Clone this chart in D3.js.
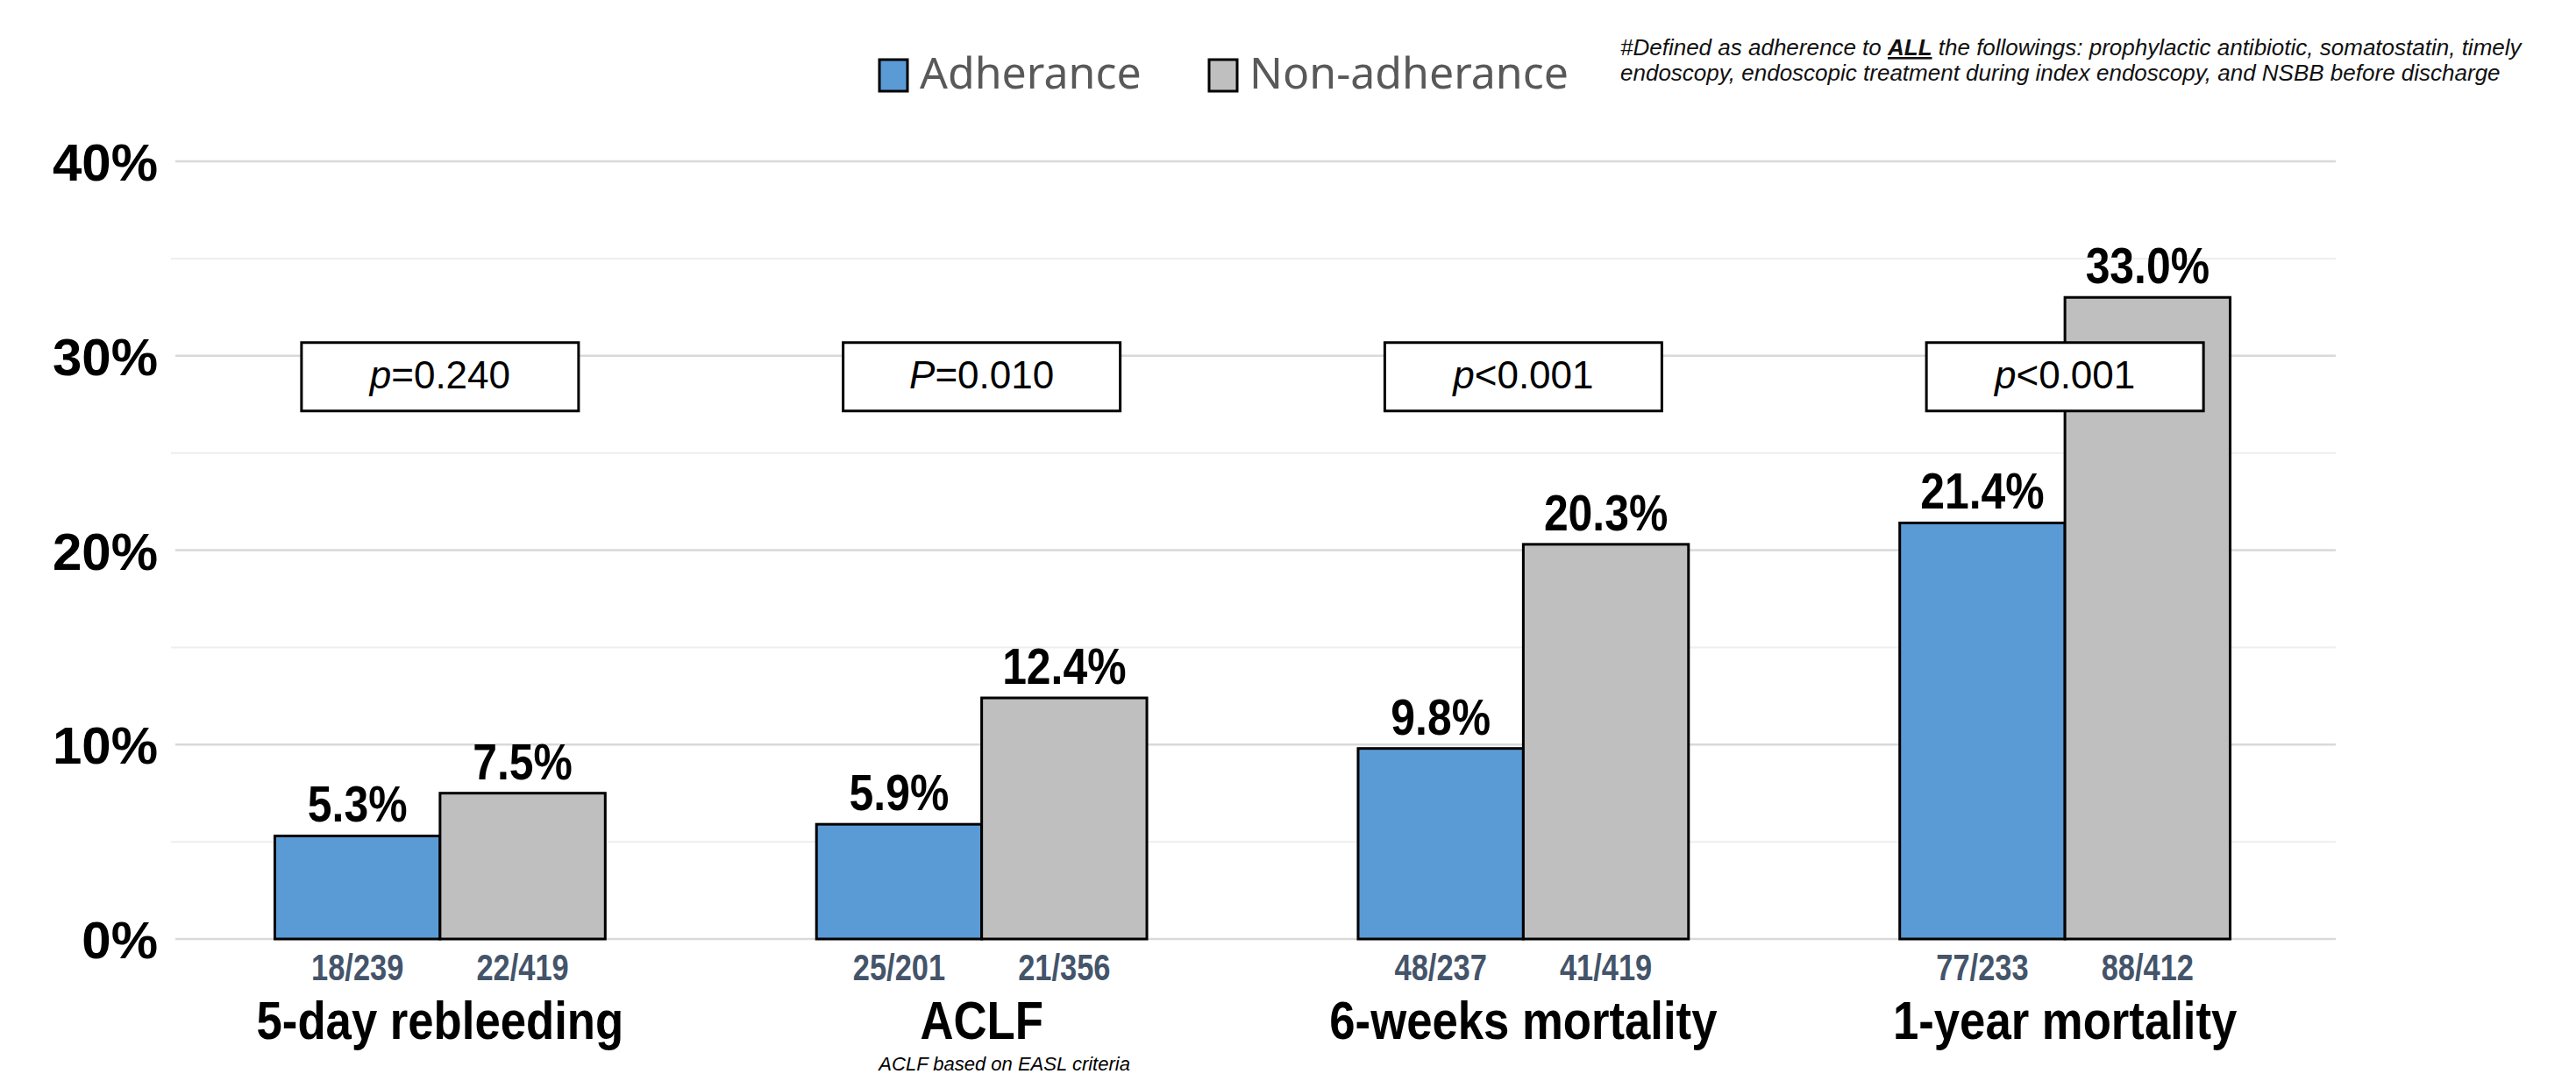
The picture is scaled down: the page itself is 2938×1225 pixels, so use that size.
<!DOCTYPE html>
<html>
<head>
<meta charset="utf-8">
<script src="https://cdn.jsdelivr.net/npm/d3@7/dist/d3.min.js"></script>
<style>
  html, body { margin: 0; padding: 0; background: #ffffff; }
  svg { display: block; }
</style>
</head>
<body>
<script>
// ---------------- data ----------------
const categories = ["5-day rebleeding", "ACLF", "6-weeks mortality", "1-year mortality"];
const seriesNames = ["Adherance", "Non-adherance"];
const adherence = [5.3, 5.9, 9.8, 21.4];
const nonAdherence = [7.5, 12.4, 20.3, 33.0];
const adherenceCounts = ["18/239", "25/201", "48/237", "77/233"];
const nonAdherenceCounts = ["22/419", "21/356", "41/419", "88/412"];
const pPrefix = ["p", "P", "p", "p"];
const pRest = ["=0.240", "=0.010", "<0.001", "<0.001"];
const yTicks = [0, 10, 20, 30, 40];
const yMinorTicks = [5, 15, 25, 35];
const footnoteLine1 = ["#Defined as adherence to ", "ALL", " the followings: prophylactic antibiotic, somatostatin, timely"];
const footnoteLine2 = "endoscopy, endoscopic treatment during index endoscopy, and NSBB before discharge";
const aclfNote = "ACLF based on EASL criteria";

// ---------------- layout ----------------
const W = 2938, H = 1225;
const colors = ["#5B9BD5", "#BFBFBF"];
const sans = "'Liberation Sans',Arial,Helvetica,sans-serif";

const svg = d3.select("body").append("svg")
  .attr("width", W).attr("height", H)
  .attr("viewBox", `0 0 ${W} ${H}`);
svg.append("rect").attr("width", W).attr("height", H).attr("fill", "#fff");

const x0 = d3.scaleBand().domain(categories).range([193, 2664])
  .paddingInner(0.39).paddingOuter(0.195);
const x1 = d3.scaleBand().domain(seriesNames).range([0, x0.bandwidth()]).padding(0);
const y = d3.scaleLinear().domain([0, 40]).range([1071, 184]);

// gridlines
const grid = svg.append("g");
grid.selectAll("line.minor").data(yMinorTicks).join("line")
  .attr("class", "minor")
  .attr("x1", 195).attr("x2", 2664)
  .attr("y1", d => y(d)).attr("y2", d => y(d))
  .attr("stroke", "#eeeeee").attr("stroke-width", 2);
grid.selectAll("line.major").data(yTicks).join("line")
  .attr("class", "major")
  .attr("x1", 200).attr("x2", 2664)
  .attr("y1", d => y(d)).attr("y2", d => y(d))
  .attr("stroke", "#d9d9d9").attr("stroke-width", 2.5);

// y axis labels
const yAxis = d3.axisLeft(y).tickValues(yTicks).tickFormat(d => d + "%").tickSize(0).tickPadding(0);
const ya = svg.append("g").attr("transform", "translate(180,0)").call(yAxis);
ya.select(".domain").remove();
ya.selectAll("text")
  .attr("font-family", sans).attr("font-weight", "bold")
  .attr("font-size", 60).attr("fill", "#000").attr("dy", "0.36em");

// bars
const rows = categories.map((c, i) => ({
  cat: c,
  vals: [
    { s: seriesNames[0], v: adherence[i], n: adherenceCounts[i] },
    { s: seriesNames[1], v: nonAdherence[i], n: nonAdherenceCounts[i] }
  ]
}));

const groups = svg.append("g").selectAll("g").data(rows).join("g")
  .attr("transform", d => `translate(${x0(d.cat)},0)`);

groups.selectAll("rect").data(d => d.vals).join("rect")
  .attr("x", d => x1(d.s))
  .attr("y", d => y(d.v))
  .attr("width", x1.bandwidth())
  .attr("height", d => y(0) - y(d.v))
  .attr("fill", (d, i) => colors[i])
  .attr("stroke", "#000").attr("stroke-width", 3);

// value labels (condensed look)
groups.selectAll("text.val").data(d => d.vals).join("text")
  .attr("class", "val")
  .attr("transform", d => `translate(${x1(d.s) + x1.bandwidth() / 2},${y(d.v) - 16}) scale(0.86,1)`)
  .attr("text-anchor", "middle")
  .attr("font-family", sans).attr("font-weight", "bold")
  .attr("font-size", 58).attr("fill", "#000")
  .text(d => d.v.toFixed(1) + "%");

// counts
groups.selectAll("text.cnt").data(d => d.vals).join("text")
  .attr("class", "cnt")
  .attr("transform", d => `translate(${x1(d.s) + x1.bandwidth() / 2},1118) scale(0.82,1)`)
  .attr("text-anchor", "middle")
  .attr("font-family", sans).attr("font-weight", "bold")
  .attr("font-size", 42).attr("fill", "#44546A")
  .text(d => d.n);

// category labels
const xAxis = d3.axisBottom(x0).tickSize(0).tickPadding(0);
const xa = svg.append("g").attr("transform", "translate(0,1185)").call(xAxis);
xa.select(".domain").remove();
xa.selectAll("text")
  .attr("dy", 0).attr("y", 0)
  .attr("transform", "scale(0.85,1)")
  .attr("font-family", sans).attr("font-weight", "bold")
  .attr("font-size", 62).attr("fill", "#000");

// ACLF note
svg.append("text")
  .attr("x", x0("ACLF") + x0.bandwidth() / 2 + 26)
  .attr("y", 1221)
  .attr("text-anchor", "middle")
  .attr("font-family", sans).attr("font-style", "italic")
  .attr("font-size", 22).attr("fill", "#000")
  .text(aclfNote);

// p-value boxes
const pg = svg.append("g").selectAll("g").data(categories).join("g")
  .attr("transform", (d, i) => `translate(${x0(d) + x0.bandwidth() / 2},0)`);
pg.append("rect")
  .attr("x", -158).attr("y", y(30) - 15)
  .attr("width", 316).attr("height", 78)
  .attr("fill", "#fff").attr("stroke", "#000").attr("stroke-width", 3);
const pt = pg.append("text")
  .attr("x", 0).attr("y", y(30) + 37)
  .attr("text-anchor", "middle")
  .attr("font-family", sans).attr("font-size", 44).attr("fill", "#000");
pt.append("tspan").attr("font-style", "italic").text((d, i) => pPrefix[i]);
pt.append("tspan").text((d, i) => pRest[i]);

// legend
const leg = svg.append("g");
const legX = [1003, 1379];
seriesNames.forEach((s, i) => {
  leg.append("rect")
    .attr("x", legX[i]).attr("y", 68)
    .attr("width", 32).attr("height", 36)
    .attr("fill", colors[i]).attr("stroke", "#000").attr("stroke-width", 3);
  leg.append("text")
    .attr("x", legX[i] + 46).attr("y", 101)
    .attr("font-family", "'Noto Sans','Open Sans',sans-serif")
    .attr("font-size", 50).attr("fill", "#595959")
    .text(s);
});

// footnote
const fn = svg.append("g").attr("font-family", sans).attr("font-style", "italic")
  .attr("font-size", 26).attr("fill", "#111");
const t1 = fn.append("text").attr("x", 1848).attr("y", 63);
footnoteLine1.forEach((s, i) => {
  t1.append("tspan").attr("text-decoration", i === 1 ? "underline" : null)
    .attr("font-weight", i === 1 ? "bold" : null).text(s);
});
fn.append("text").attr("x", 1848).attr("y", 92).text(footnoteLine2);
</script>
</body>
</html>
